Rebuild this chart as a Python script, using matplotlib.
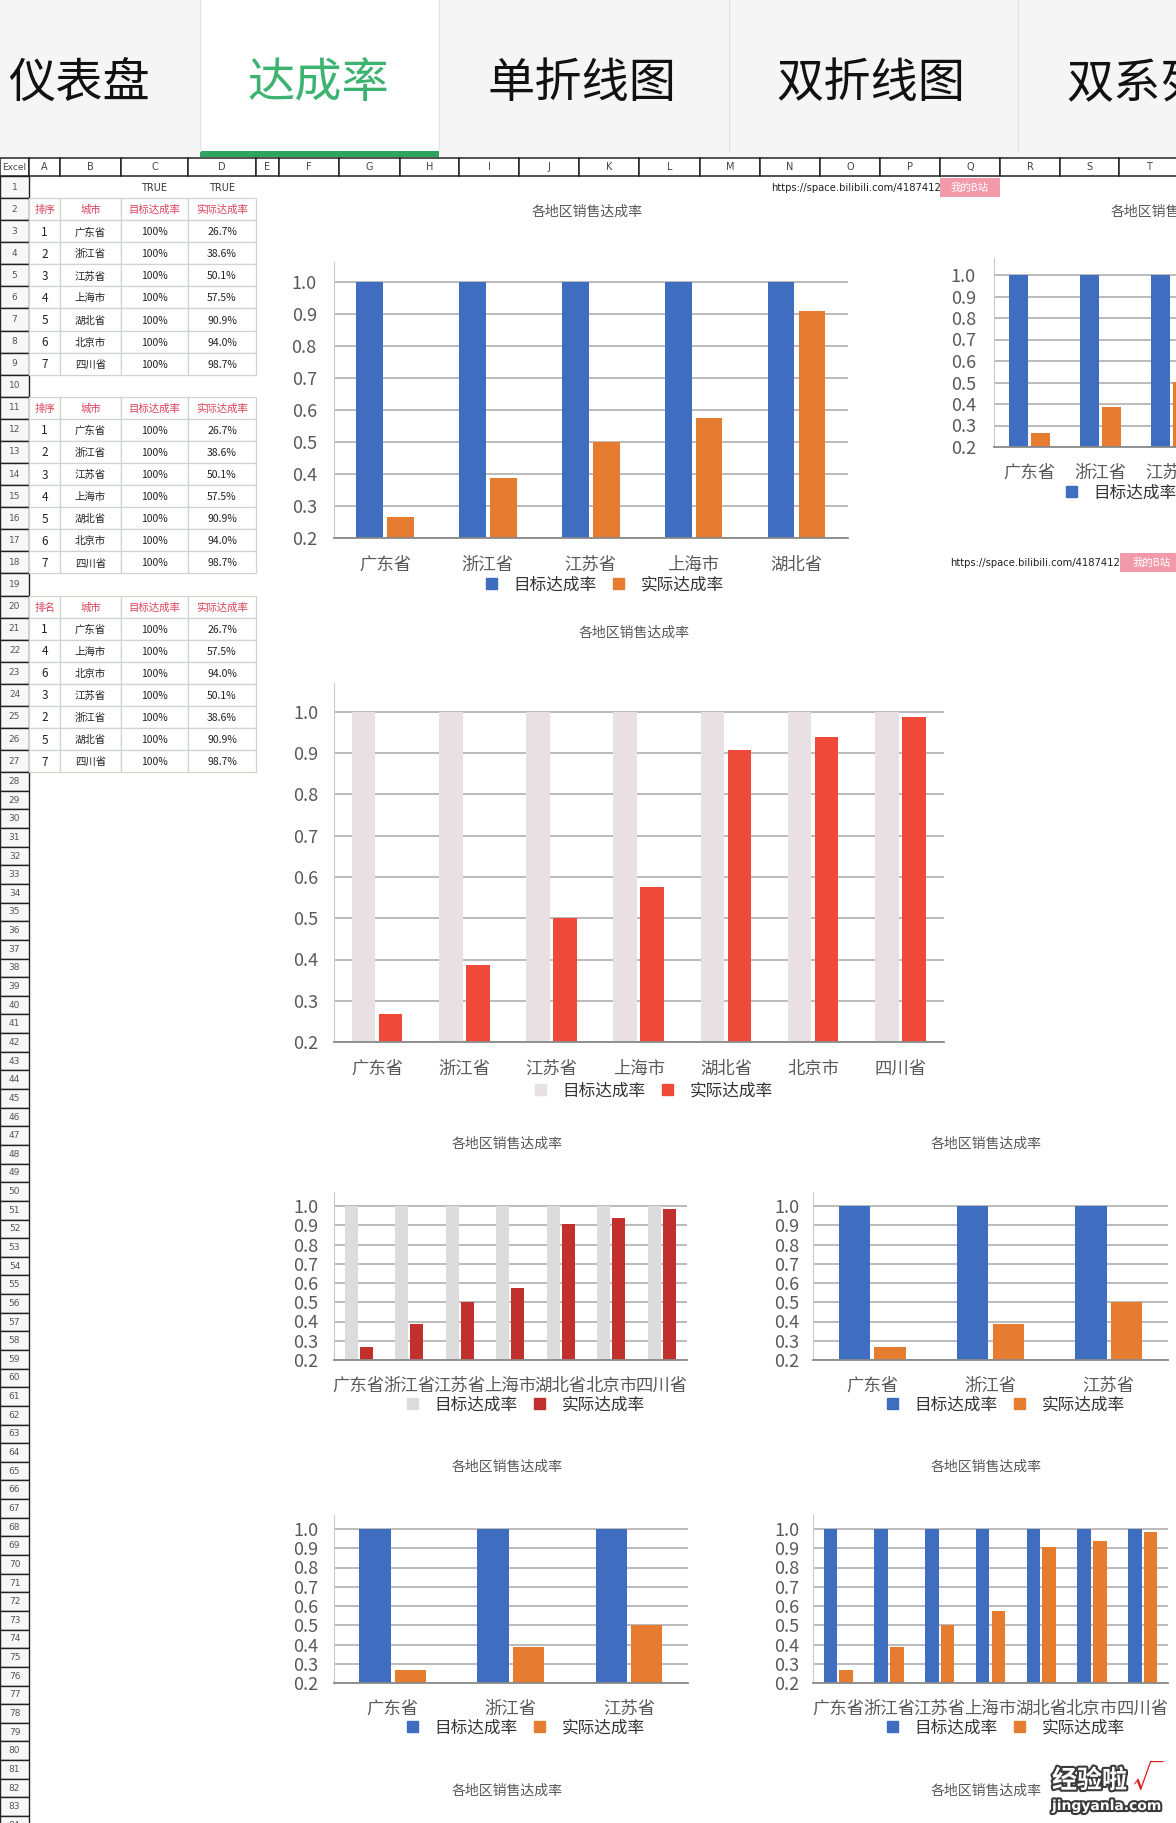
import matplotlib
matplotlib.use('Agg')
import matplotlib.pyplot as plt
from matplotlib.patches import Rectangle
import matplotlib.patheffects as pe
import numpy as np

plt.rcParams['font.family'] = ['Noto Sans CJK SC', 'DejaVu Sans']

# ---------------- data ----------------
cities = ['广东省', '浙江省', '江苏省', '上海市', '湖北省', '北京市', '四川省']
ranks = [1, 2, 3, 4, 5, 6, 7]
target = [1.0, 1.0, 1.0, 1.0, 1.0, 1.0, 1.0]
actual = [0.267, 0.386, 0.501, 0.575, 0.909, 0.940, 0.987]
target_labels = ['100%'] * 7
actual_labels = ['26.7%', '38.6%', '50.1%', '57.5%', '90.9%', '94.0%', '98.7%']
sorted_ranks = [1, 4, 6, 3, 2, 5, 7]
sorted_cities = ['广东省', '上海市', '北京市', '江苏省', '浙江省', '湖北省', '四川省']
sorted_actual_labels = ['26.7%', '57.5%', '94.0%', '50.1%', '38.6%', '90.9%', '98.7%']
tab_names = ['仪表盘', '达成率', '单折线图', '双折线图', '双系列柱形图']
col_letters = ['Excel', 'A', 'B', 'C', 'D', 'E', 'F', 'G', 'H', 'I', 'J', 'K',
               'L', 'M', 'N', 'O', 'P', 'Q', 'R', 'S', 'T']
table_headers_1 = ['排序', '城市', '目标达成率', '实际达成率']
table_headers_3 = ['排名', '城市', '目标达成率', '实际达成率']
chart_title = '各地区销售达成率'
series_names = ['目标达成率', '实际达成率']
url_text = 'https://space.bilibili.com/41874129'
badge_text = '我的B站'

# ---------------- figure ----------------
W, H = 1176, 1823
fig = plt.figure(figsize=(W / 100, H / 100), dpi=100)
bg = fig.add_axes([0, 0, 1, 1], zorder=0)
bg.set_xlim(0, W)
bg.set_ylim(H, 0)
bg.axis('off')

# tab bar
bg.add_patch(Rectangle((0, 0), W, 157, facecolor='#f5f5f5', edgecolor='none'))
bg.add_patch(Rectangle((200, 0), 239, 152, facecolor='white', edgecolor='none'))
bg.add_patch(Rectangle((200, 151), 239, 6, facecolor='#2ea55f', edgecolor='none'))
for xd in (200, 439, 729, 1018):
    bg.plot([xd, xd], [0, 151], color='#e2e2e2', lw=1)
tab_x = [8, 247, 488, 776, 1066]
for i, (name, tx) in enumerate(zip(tab_names, tab_x)):
    col = '#3cb371' if i == 1 else '#111111'
    bg.text(tx, 84, name, fontsize=34, color=col, ha='left', va='center')

# columns
colx = [0, 29, 60, 121, 188, 256, 279, 339, 400, 459, 519, 579, 639, 700, 760,
        820, 880, 940, 1000, 1060, 1119, 1179]
for i, lab in enumerate(col_letters):
    bg.add_patch(Rectangle((colx[i], 158), colx[i + 1] - colx[i], 18,
                           facecolor='white', edgecolor='#222222', lw=1.1))
    bg.text((colx[i] + colx[i + 1]) / 2, 167, lab, fontsize=6.5 if i == 0 else 7,
            color='#444444', ha='center', va='center', family='DejaVu Sans')


def rowtop(n):
    if n <= 28:
        return 176 + (n - 1) * 22.08
    return 176 + 27 * 22.08 + (n - 28) * 18.64


for n in range(1, 85):
    t, b = rowtop(n), rowtop(n + 1)
    bg.add_patch(Rectangle((0, t), 29, b - t, facecolor='#f7f7f7',
                           edgecolor='#222222', lw=1.0))
    bg.text(14.5, (t + b) / 2, str(n), fontsize=6.5, color='#555555',
            ha='center', va='center', family='DejaVu Sans')


def rowc(n):
    return (rowtop(n) + rowtop(n + 1)) / 2


# TRUE cells
for ci in (3, 4):
    bg.text((colx[ci] + colx[ci + 1]) / 2, rowc(1) + 1, 'TRUE', fontsize=7,
            color='#333333', ha='center', va='center', family='DejaVu Sans')

# tables
tables = [
    (2, table_headers_1, ranks, cities, target_labels, actual_labels),
    (11, table_headers_1, ranks, cities, target_labels, actual_labels),
    (20, table_headers_3, sorted_ranks, sorted_cities, target_labels, sorted_actual_labels),
]
for start, heads, rk, cts, tl, al in tables:
    for r in range(start, start + 8):
        t, b = rowtop(r), rowtop(r + 1)
        for j in range(4):
            x0, x1 = colx[1 + j], colx[2 + j]
            bg.add_patch(Rectangle((x0, t), x1 - x0, b - t, facecolor='white',
                                   edgecolor='#cdd6cd', lw=0.9))
    for j, h in enumerate(heads):
        bg.text((colx[1 + j] + colx[2 + j]) / 2, rowc(start) + 1, h, fontsize=7.5,
                color='#d9415a', ha='center', va='center')
    for i in range(7):
        r = start + 1 + i
        vals = [str(rk[i]), cts[i], tl[i], al[i]]
        for j, v in enumerate(vals):
            bg.text((colx[1 + j] + colx[2 + j]) / 2, rowc(r) + 1, v,
                    fontsize=8.5 if j == 0 else 7.5, color='#222222',
                    ha='center', va='center')

# url badges
bg.text(947, 188, url_text, fontsize=7.2, color='#222222', ha='right', va='center',
        family='DejaVu Sans')
bg.add_patch(Rectangle((940, 178), 60, 19, facecolor='#f39aaa', edgecolor='none', zorder=3))
bg.text(970, 188, badge_text, fontsize=7.5, color='white', ha='center', va='center', zorder=4)
bg.text(1126, 563, url_text, fontsize=7.2, color='#222222', ha='right', va='center',
        family='DejaVu Sans')
bg.add_patch(Rectangle((1120, 553), 60, 19, facecolor='#f39aaa', edgecolor='none', zorder=3))
bg.text(1152, 563, badge_text, fontsize=7.5, color='white', ha='center', va='center', zorder=4)

BLUE, ORANGE = '#3f6dc0', '#e67c2f'
LGRAY, RED = '#e8e0e3', '#ef4a39'
GRAY2, DRED = '#dcdcdc', '#c1302c'


def draw_chart(x0, x1, ytop, y10, y02, cats, s1, s2, c1, c2, width, off,
               title_xy, legend_xy, ypad, xpad):
    unit = (y02 - y10) / 0.8
    ymax = 1.0 + (y10 - ytop) / unit
    ax = fig.add_axes([x0 / W, 1 - y02 / H, (x1 - x0) / W, (y02 - ytop) / H], zorder=2)
    ax.set_facecolor('none')
    x = np.arange(len(cats))
    ax.bar(x - off, s1, width, color=c1, zorder=2)
    ax.bar(x + off, s2, width, color=c2, zorder=2)
    ax.set_xlim(-0.5, len(cats) - 0.5)
    ax.set_ylim(0.2, ymax)
    ticks = np.round(np.arange(0.2, 1.001, 0.1), 1)
    ax.set_yticks(ticks)
    ax.set_yticklabels([f'{t:.1f}' for t in ticks])
    ax.set_xticks(x)
    ax.set_xticklabels(cats)
    ax.tick_params(axis='y', length=0, pad=ypad, labelsize=13, labelcolor='#595959')
    ax.tick_params(axis='x', length=0, pad=xpad, labelsize=12.5, labelcolor='#595959')
    ax.yaxis.grid(True, color='#a8a8a8', lw=1.1)
    ax.set_axisbelow(True)
    for s in ('top', 'right'):
        ax.spines[s].set_visible(False)
    ax.spines['left'].set_color('#c8c8c8')
    ax.spines['bottom'].set_color('#8a8a8a')
    ax.spines['bottom'].set_linewidth(1.3)
    handles = [Rectangle((0, 0), 1, 1, color=c1), Rectangle((0, 0), 1, 1, color=c2)]
    leg = ax.legend(handles, series_names, loc='center',
                    bbox_to_anchor=(legend_xy[0] / W, 1 - legend_xy[1] / H),
                    bbox_transform=fig.transFigure, ncol=2, frameon=False,
                    fontsize=12, handlelength=0.65, handleheight=0.65,
                    handletextpad=1.0, columnspacing=1.0, borderpad=0,
                    borderaxespad=0)
    for t in leg.get_texts():
        t.set_color('#333333')
    fig.text(title_xy[0] / W, 1 - title_xy[1] / H, chart_title, fontsize=10,
             color='#595959', ha='center', va='center')
    return ax


# chart 1 (5 categories)
draw_chart(333.5, 848, 261.5, 282, 538, cities[:5], target[:5], actual[:5],
           BLUE, ORANGE, 0.26, 0.15, (587, 212), (605, 585), 12, 13)
# chart 2 (partially visible, right edge)
draw_chart(994, 1349, 258, 275, 447, cities[:5], target[:5], actual[:5],
           BLUE, ORANGE, 0.27, 0.15, (1166, 212), (1185, 493), 13, 12)
# chart 3 (big, 7 categories, gray/red)
draw_chart(333.5, 944, 683, 712, 1042, cities, target, actual,
           LGRAY, RED, 0.27, 0.155, (634, 633), (654, 1091), 11, 13)
# chart 4
draw_chart(333.5, 687, 1192, 1206, 1360, cities, target, actual,
           GRAY2, DRED, 0.26, 0.15, (507, 1144), (526, 1405), 11, 12)
# chart 5
draw_chart(813, 1168, 1192, 1206, 1360, cities[:3], target[:3], actual[:3],
           BLUE, ORANGE, 0.265, 0.15, (986, 1144), (1006, 1405), 10, 12)
# chart 6
draw_chart(333.5, 688, 1515, 1529, 1683, cities[:3], target[:3], actual[:3],
           BLUE, ORANGE, 0.265, 0.15, (507, 1467), (526, 1728), 11, 12)
# chart 7
draw_chart(813, 1168, 1515, 1529, 1683, cities, target, actual,
           BLUE, ORANGE, 0.27, 0.155, (986, 1467), (1006, 1728), 10, 12)

# titles of further charts at the bottom
for tx in (507, 986):
    fig.text(tx / W, 1 - 1791 / H, chart_title, fontsize=10, color='#595959',
             ha='center', va='center')

# watermark
wm = [pe.withStroke(linewidth=3, foreground='#3a3a3a')]
bg.text(1052, 1781, '经验啦', fontsize=18, fontweight='bold', color='white',
        ha='left', va='center', path_effects=wm, zorder=5)
bg.text(1133, 1780, '√', fontsize=22, color='#e01b1b', ha='left', va='center', zorder=5)
bg.text(1052, 1806, 'jingyanla.com', fontsize=10, fontweight='bold', color='white',
        ha='left', va='center', family='DejaVu Sans', path_effects=wm, zorder=5)

fig.savefig('out.png', dpi=100)
